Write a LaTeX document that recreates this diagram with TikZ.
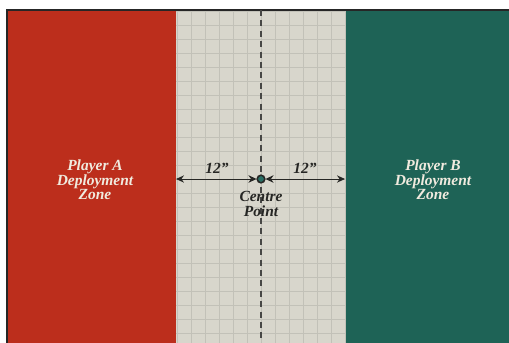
\documentclass[tikz,border=0pt]{standalone}
\usepackage{fontspec}
\setmainfont{Liberation Serif}
\usetikzlibrary{arrows.meta,calc,positioning}
\definecolor{zonea}{RGB}{188,46,28}
\definecolor{zoneb}{RGB}{30,99,86}
\definecolor{nomans}{RGB}{216,214,204}
\definecolor{ink}{RGB}{38,38,36}
\definecolor{cream}{RGB}{240,234,222}
\definecolor{pivotfill}{RGB}{40,110,100}
\tikzset{
  zone label/.style={
    font=\bfseries\itshape\fontsize{11}{10.4}\selectfont,
    text=cream,
    align=center,
    inner sep=0pt
  },
  map label/.style={
    zone label,
    text=ink
  },
  gridline/.style={
    draw=nomans!90!black,
    line width=.3pt
  },
  frameline/.style={
    draw=black!85,
    line width=1.2pt
  },
  centreline/.style={
    draw=ink!85,
    line width=.8pt,
    dash pattern=on 1.5mm off 1.1mm
  },
  pivot/.style={
    circle,
    draw=ink,
    line width=1.1pt,
    fill=pivotfill,
    minimum size=1.9mm,
    inner sep=0pt
  },
  measure/.style={
    {Stealth[length=2mm,width=1.9mm]}-{Stealth[length=2mm,width=1.8mm]},
    line width=.6pt,
    draw=ink
  }
}

\begin{document}
\begin{tikzpicture}[x=0.025cm,y=-0.025cm]
  \useasboundingbox (0,0) rectangle (509,343);
  \fill[zonea]  (7,10)   rectangle (176,343);
  \fill[nomans] (176,10) rectangle (345,343);
  \fill[zoneb]  (345,10) rectangle (509,343);
  \foreach \gx in {177,191,...,345}
    \draw[gridline] (\gx,10) -- (\gx,343);
  \foreach \gy in {11,25,...,343}
    \draw[gridline] (176,\gy) -- (345,\gy);
  \draw[frameline] (7,343) -- (7,10) -- (509,10);

  \coordinate (top)    at (261,10);
  \coordinate (bottom) at (261,343);
  \draw[centreline] (top) -- (bottom);

  \node[zone label] (labela) at (95,180)  {Player A\\Deployment\\Zone};
  \node[zone label] (labelb) at (433,180) {Player B\\Deployment\\Zone};

  \coordinate (aedge) at (176,179);
  \coordinate (bedge) at (345,179);
  \node[pivot] (cp) at (261,179) {};
  \draw[measure] (cp) -- (aedge);
  \draw[measure] (cp) -- (bedge);

  \node[map label] (dista)   at (217,168) {12''};
  \node[map label] (distb)   at (305,168) {12''};
  \node[map label] (cplabel) at (261,204) {Centre\\Point};
\end{tikzpicture}
\end{document}
